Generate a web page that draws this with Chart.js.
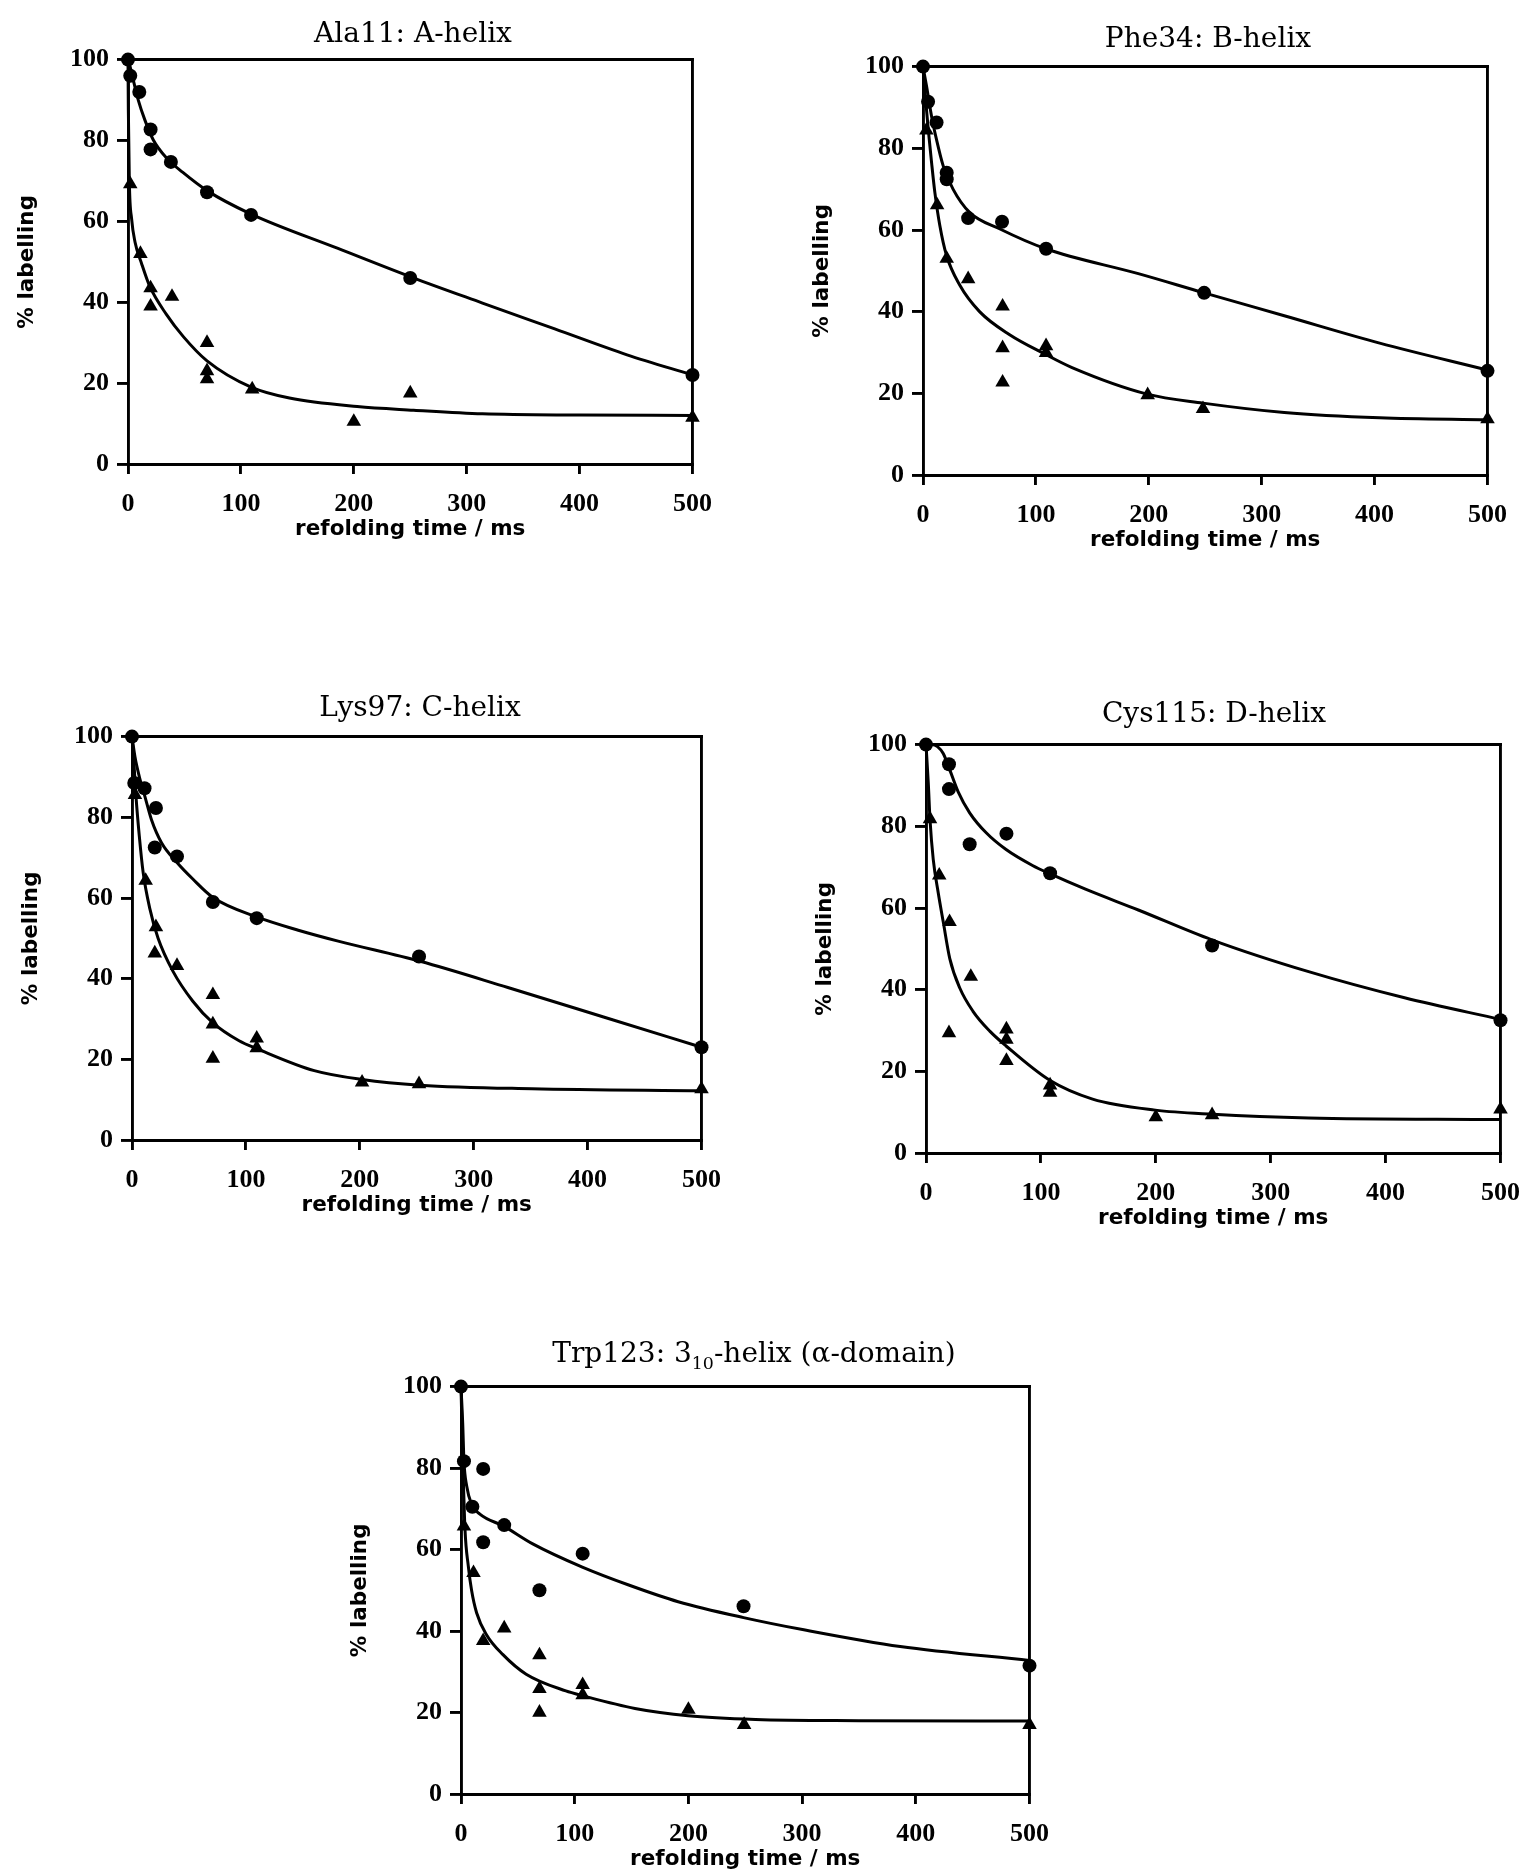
<!DOCTYPE html>
<html>
<head>
<meta charset="utf-8">
<script src="https://cdn.jsdelivr.net/npm/chart.js@4.4.1/dist/chart.umd.min.js"></script>
<style>
  html, body { margin: 0; padding: 0; background: #fff; }
  body { position: relative; width: 1538px; height: 1874px; overflow: hidden; }
  canvas { position: absolute; }
  .ttl {
    position: absolute; transform: translate(-50%, -50%);
    font-family: "DejaVu Serif", serif; font-size: 28px; color: #000;
    white-space: nowrap; line-height: 1; z-index: 2;
  }
  .ttl sub { font-size: 0.62em; vertical-align: -0.38em; line-height: 0; }
</style>
</head>
<body>
<script>
// ---- Ala11: A-helix ----
const ala11CircleT = [0, 2, 10, 20, 20, 38, 70, 109, 250, 500];
const ala11CircleV = [100, 96, 92, 82.7, 77.8, 74.7, 67.2, 61.6, 46, 22];
const ala11TriT = [2, 11, 20, 20, 39, 70, 70, 70, 110, 200, 250, 500];
const ala11TriV = [69.2, 52, 43.5, 39, 41.4, 30, 23, 21, 18.5, 10.5, 17.5, 11.5];
const ala11FitCircleT = [0, 1.2, 4.7, 9.1, 14.9, 22.3, 34, 48.6, 70, 109, 186, 252, 314, 378, 442, 500];
const ala11FitCircleV = [100, 99, 94.9, 90, 85.1, 80.2, 75.7, 72.1, 67.6, 61.8, 53.3, 46.1, 39.8, 33.4, 27, 22];
const ala11FitTriT = [0, 0.3, 1.2, 3.2, 6.2, 12, 19.3, 34, 49, 70, 109, 143, 203, 253, 314, 400, 500];
const ala11FitTriV = [100, 87.6, 69.6, 60.6, 54.9, 49.6, 43.9, 37, 31.5, 25.5, 19, 16.3, 14.2, 13.3, 12.4, 12.1, 12];

// ---- Phe34: B-helix ----
const phe34CircleT = [0, 4.5, 12, 21, 21, 40, 70, 109, 249, 500];
const phe34CircleV = [100, 91.4, 86.3, 74, 72.4, 62.9, 62, 55.4, 44.6, 25.5];
const phe34TriT = [3, 12.5, 21, 40, 70.5, 70.5, 70.5, 109, 109, 199, 248, 500];
const phe34TriV = [84.4, 66.1, 53, 48, 41.3, 31.1, 22.7, 31.6, 29.9, 19.6, 16.2, 13.7];
const phe34FitCircleT = [0, 3.2, 7.6, 12, 17.9, 26.6, 41.3, 67.7, 108.7, 190.7, 249, 320, 404.5, 500];
const phe34FitCircleV = [100, 95.1, 87.8, 82.1, 75.7, 70, 64.3, 60.3, 55.4, 49.3, 44.6, 39, 32.3, 25.7];
const phe34FitTriT = [0, 2.6, 4.7, 7.6, 10.5, 14.9, 20.8, 32.5, 50.1, 76.4, 108.7, 132, 198.6, 248, 320, 404.5, 500];
const phe34FitTriV = [100, 91, 84.5, 76.5, 69.2, 61.1, 53.8, 46.5, 40, 34.4, 29.5, 26.3, 19.8, 17.6, 15.3, 14, 13.5];

// ---- Lys97: C-helix ----
const lys97CircleT = [0, 2, 11, 21, 20, 39.5, 71, 109.5, 252, 500];
const lys97CircleV = [100, 88.5, 87.2, 82.3, 72.5, 70.3, 59, 55, 45.5, 23];
const lys97TriT = [2.6, 12, 21, 20, 39.5, 71, 71, 71, 109.5, 109.5, 202, 252, 500];
const lys97TriV = [85.6, 64.3, 52.8, 46.3, 43.2, 36, 28.7, 20.2, 25.2, 22.8, 14.3, 13.9, 12.6];
const lys97FitCircleT = [0, 2.6, 6.4, 11.3, 17.1, 25.9, 39.5, 53.4, 70.8, 109.5, 146, 181, 253, 330, 414, 500];
const lys97FitCircleV = [100, 95, 90.1, 85.2, 79.4, 73.7, 68.8, 64.7, 60.2, 55.3, 52, 49.3, 44.3, 37.8, 30.5, 23];
const lys97FitTriT = [0, 1.7, 3.5, 6.4, 9.8, 15.7, 22.9, 36, 53.4, 70.8, 94, 110, 160, 202, 253, 351, 500];
const lys97FitTriV = [100, 93.4, 85.2, 75.4, 66.3, 57.3, 50, 41.8, 34.4, 29.1, 24.6, 22.6, 17.2, 15, 13.6, 12.7, 12.2];

// ---- Cys115: D-helix ----
const cys115CircleT = [0, 20, 20, 38, 70, 108, 249, 500];
const cys115CircleV = [100, 95.2, 89.1, 75.6, 78.2, 68.5, 50.8, 32.5];
const cys115TriT = [3.5, 11.5, 20.5, 20, 39, 70, 70, 70, 108, 108, 200, 249, 500];
const cys115TriV = [81.8, 68, 56.6, 29.4, 43.2, 30.3, 27.8, 22.6, 16.6, 14.8, 8.8, 9.3, 10.7];
const cys115FitCircleT = [0, 5, 10, 15, 20.7, 27.9, 38, 52.4, 69.7, 92.7, 107.7, 138.8, 184.8, 248.7, 333, 416.5, 500];
const cys115FitCircleV = [100, 100, 99.5, 97.8, 93.8, 88.5, 83.3, 78.4, 74.3, 70.4, 68.4, 64.6, 59.5, 52.2, 44.4, 38, 32.7];
const cys115FitTriT = [0, 2, 3.5, 6.3, 10.6, 15, 20.7, 29.4, 40.9, 55.3, 69.7, 107.7, 145, 199.5, 249.6, 333, 500];
const cys115FitTriV = [100, 90.5, 81.6, 71.9, 63.8, 56.6, 47.6, 40.4, 34.7, 29.9, 26.2, 17.8, 13.2, 10.5, 9.5, 8.6, 8.2];

// ---- Trp123: 3-10 helix (alpha-domain) ----
const trp123CircleT = [0, 2.6, 10, 19.5, 19.5, 38, 69, 107, 248.5, 500];
const trp123CircleV = [100, 81.7, 70.5, 79.8, 61.8, 66, 50, 59, 46.1, 31.5];
const trp123TriT = [2.6, 11, 19.5, 38, 69, 69, 69, 107, 107, 200, 249, 500];
const trp123TriV = [65.7, 54.3, 37.6, 40.7, 34.1, 25.8, 20, 26.8, 24.3, 20.7, 17, 17];
const trp123FitCircleT = [0, 1.5, 2.6, 5, 9.3, 16.6, 37.8, 63.1, 106.7, 147.5, 191, 248.5, 301.5, 386.3, 500];
const trp123FitCircleV = [100, 91, 81.7, 75.6, 71.1, 68.7, 65.7, 61.4, 55.7, 51.3, 47.2, 43.3, 40.3, 36.2, 32.8];
const trp123FitTriT = [0, 1.5, 3.5, 6.4, 9.3, 13.7, 22.4, 36.9, 57.3, 92.2, 107.3, 153, 199.7, 259, 350, 500];
const trp123FitTriV = [100, 83, 65, 56, 50, 44.5, 39.1, 34.2, 29.4, 25.3, 24.1, 21, 19.2, 18.3, 18, 17.9];

// Axis ranges and tick spacing
const timeRange = [0, 500];
const timeStep = 100;
const labelRange = [0, 100];
const labelStep = 20;

// Panel titles
const panelTitles = [
  'Ala11: A-helix',
  'Phe34: B-helix',
  'Lys97: C-helix',
  'Cys115: D-helix',
  'Trp123: 3<sub>10</sub>-helix (\u03B1-domain)'
];

// Page placement of each plot box (pixels)
const frames = [
  { left: 128, top: 56,   width: 569, height: 408, titleX: 413,  titleY: 33 },
  { left: 923, top: 63,   width: 569, height: 412, titleX: 1208, titleY: 38 },
  { left: 132, top: 733,  width: 574, height: 407, titleX: 420,  titleY: 707 },
  { left: 926, top: 741,  width: 579, height: 412, titleX: 1214, titleY: 713 },
  { left: 461, top: 1383, width: 573, height: 411, titleX: 754,  titleY: 1353 }
];

const panelSeries = [
  [ala11CircleT, ala11CircleV, ala11TriT, ala11TriV, ala11FitCircleT, ala11FitCircleV, ala11FitTriT, ala11FitTriV],
  [phe34CircleT, phe34CircleV, phe34TriT, phe34TriV, phe34FitCircleT, phe34FitCircleV, phe34FitTriT, phe34FitTriV],
  [lys97CircleT, lys97CircleV, lys97TriT, lys97TriV, lys97FitCircleT, lys97FitCircleV, lys97FitTriT, lys97FitTriV],
  [cys115CircleT, cys115CircleV, cys115TriT, cys115TriV, cys115FitCircleT, cys115FitCircleV, cys115FitTriT, cys115FitTriV],
  [trp123CircleT, trp123CircleV, trp123TriT, trp123TriV, trp123FitCircleT, trp123FitCircleV, trp123FitTriT, trp123FitTriV]
];

const INK = '#000';
const LINE_W = 2.9;
const PAD = { left: 10, right: 30, top: 20, bottom: 5 };
const Y_AXIS_W = 115;
const X_AXIS_H = 90;
const tickFont = { family: '"Liberation Serif", "Times New Roman", serif', weight: 'bold', size: 26 };
const axisTitleFont = { family: '"DejaVu Sans", sans-serif', weight: 'bold', size: 21.5 };

function pairs(xs, ys) {
  return xs.map((x, i) => ({ x: x, y: ys[i] }));
}

function fitLine(xs, ys) {
  return {
    type: 'line', data: pairs(xs, ys),
    borderColor: INK, borderWidth: 3, pointRadius: 0,
    cubicInterpolationMode: 'monotone', fill: false, clip: false, order: 2
  };
}

function markers(xs, ys, style, radius) {
  return {
    type: 'scatter', data: pairs(xs, ys),
    pointStyle: style, pointRadius: radius,
    backgroundColor: INK, borderColor: INK, borderWidth: 0,
    showLine: false, clip: false, order: 1
  };
}

function frameAxis(pos, range, sizeProp) {
  return {
    type: 'linear', position: pos, display: true,
    min: range[0], max: range[1],
    ticks: { display: false },
    grid: { display: true, drawOnChartArea: false, drawTicks: false, color: INK, lineWidth: LINE_W },
    border: { display: true, color: INK, width: LINE_W },
    afterFit(scale) { scale[sizeProp] = 0; }
  };
}

frames.forEach((f, i) => {
  const [cT, cV, tT, tV, fcT, fcV, ftT, ftV] = panelSeries[i];

  const canvas = document.createElement('canvas');
  const cw = PAD.left + Y_AXIS_W + f.width + PAD.right;
  const ch = PAD.top + f.height + X_AXIS_H + PAD.bottom;
  canvas.width = cw; canvas.height = ch;
  canvas.style.width = cw + 'px'; canvas.style.height = ch + 'px';
  canvas.style.left = (f.left - PAD.left - Y_AXIS_W) + 'px';
  canvas.style.top = (f.top - PAD.top) + 'px';
  document.body.appendChild(canvas);

  const title = document.createElement('div');
  title.className = 'ttl';
  title.style.left = f.titleX + 'px';
  title.style.top = f.titleY + 'px';
  title.innerHTML = panelTitles[i];
  document.body.appendChild(title);

  new Chart(canvas, {
    type: 'scatter',
    data: {
      datasets: [
        fitLine(fcT, fcV),
        fitLine(ftT, ftV),
        markers(cT, cV, 'circle', 7),
        markers(tT, tV, 'triangle', 8.4)
      ]
    },
    options: {
      responsive: false, animation: false, devicePixelRatio: 1, events: [],
      layout: { padding: PAD },
      plugins: { legend: { display: false }, tooltip: { enabled: false }, title: { display: false } },
      scales: {
        x: {
          type: 'linear', position: 'bottom', min: timeRange[0], max: timeRange[1],
          ticks: { stepSize: timeStep, color: INK, font: tickFont, padding: 15, maxRotation: 0 },
          grid: { drawOnChartArea: false, drawTicks: true, tickLength: 10, tickWidth: LINE_W, tickColor: INK, color: INK, lineWidth: LINE_W },
          border: { display: true, color: INK, width: LINE_W },
          title: { display: true, text: 'refolding time / ms', color: INK, font: axisTitleFont, padding: { top: 0, bottom: 12 } },
          afterFit(scale) { scale.height = X_AXIS_H; }
        },
        y: {
          type: 'linear', position: 'left', min: labelRange[0], max: labelRange[1],
          ticks: { stepSize: labelStep, color: INK, font: tickFont, padding: 8 },
          grid: { drawOnChartArea: false, drawTicks: true, tickLength: 11, tickWidth: LINE_W, tickColor: INK, color: INK, lineWidth: LINE_W },
          border: { display: true, color: INK, width: LINE_W },
          title: { display: true, text: '% labelling', color: INK, font: axisTitleFont, padding: { top: 1.5, bottom: 0 } },
          afterFit(scale) { scale.width = Y_AXIS_W; }
        },
        xTop: frameAxis('top', timeRange, 'height'),
        yRight: frameAxis('right', labelRange, 'width')
      }
    }
  });
});
</script>
</body>
</html>
